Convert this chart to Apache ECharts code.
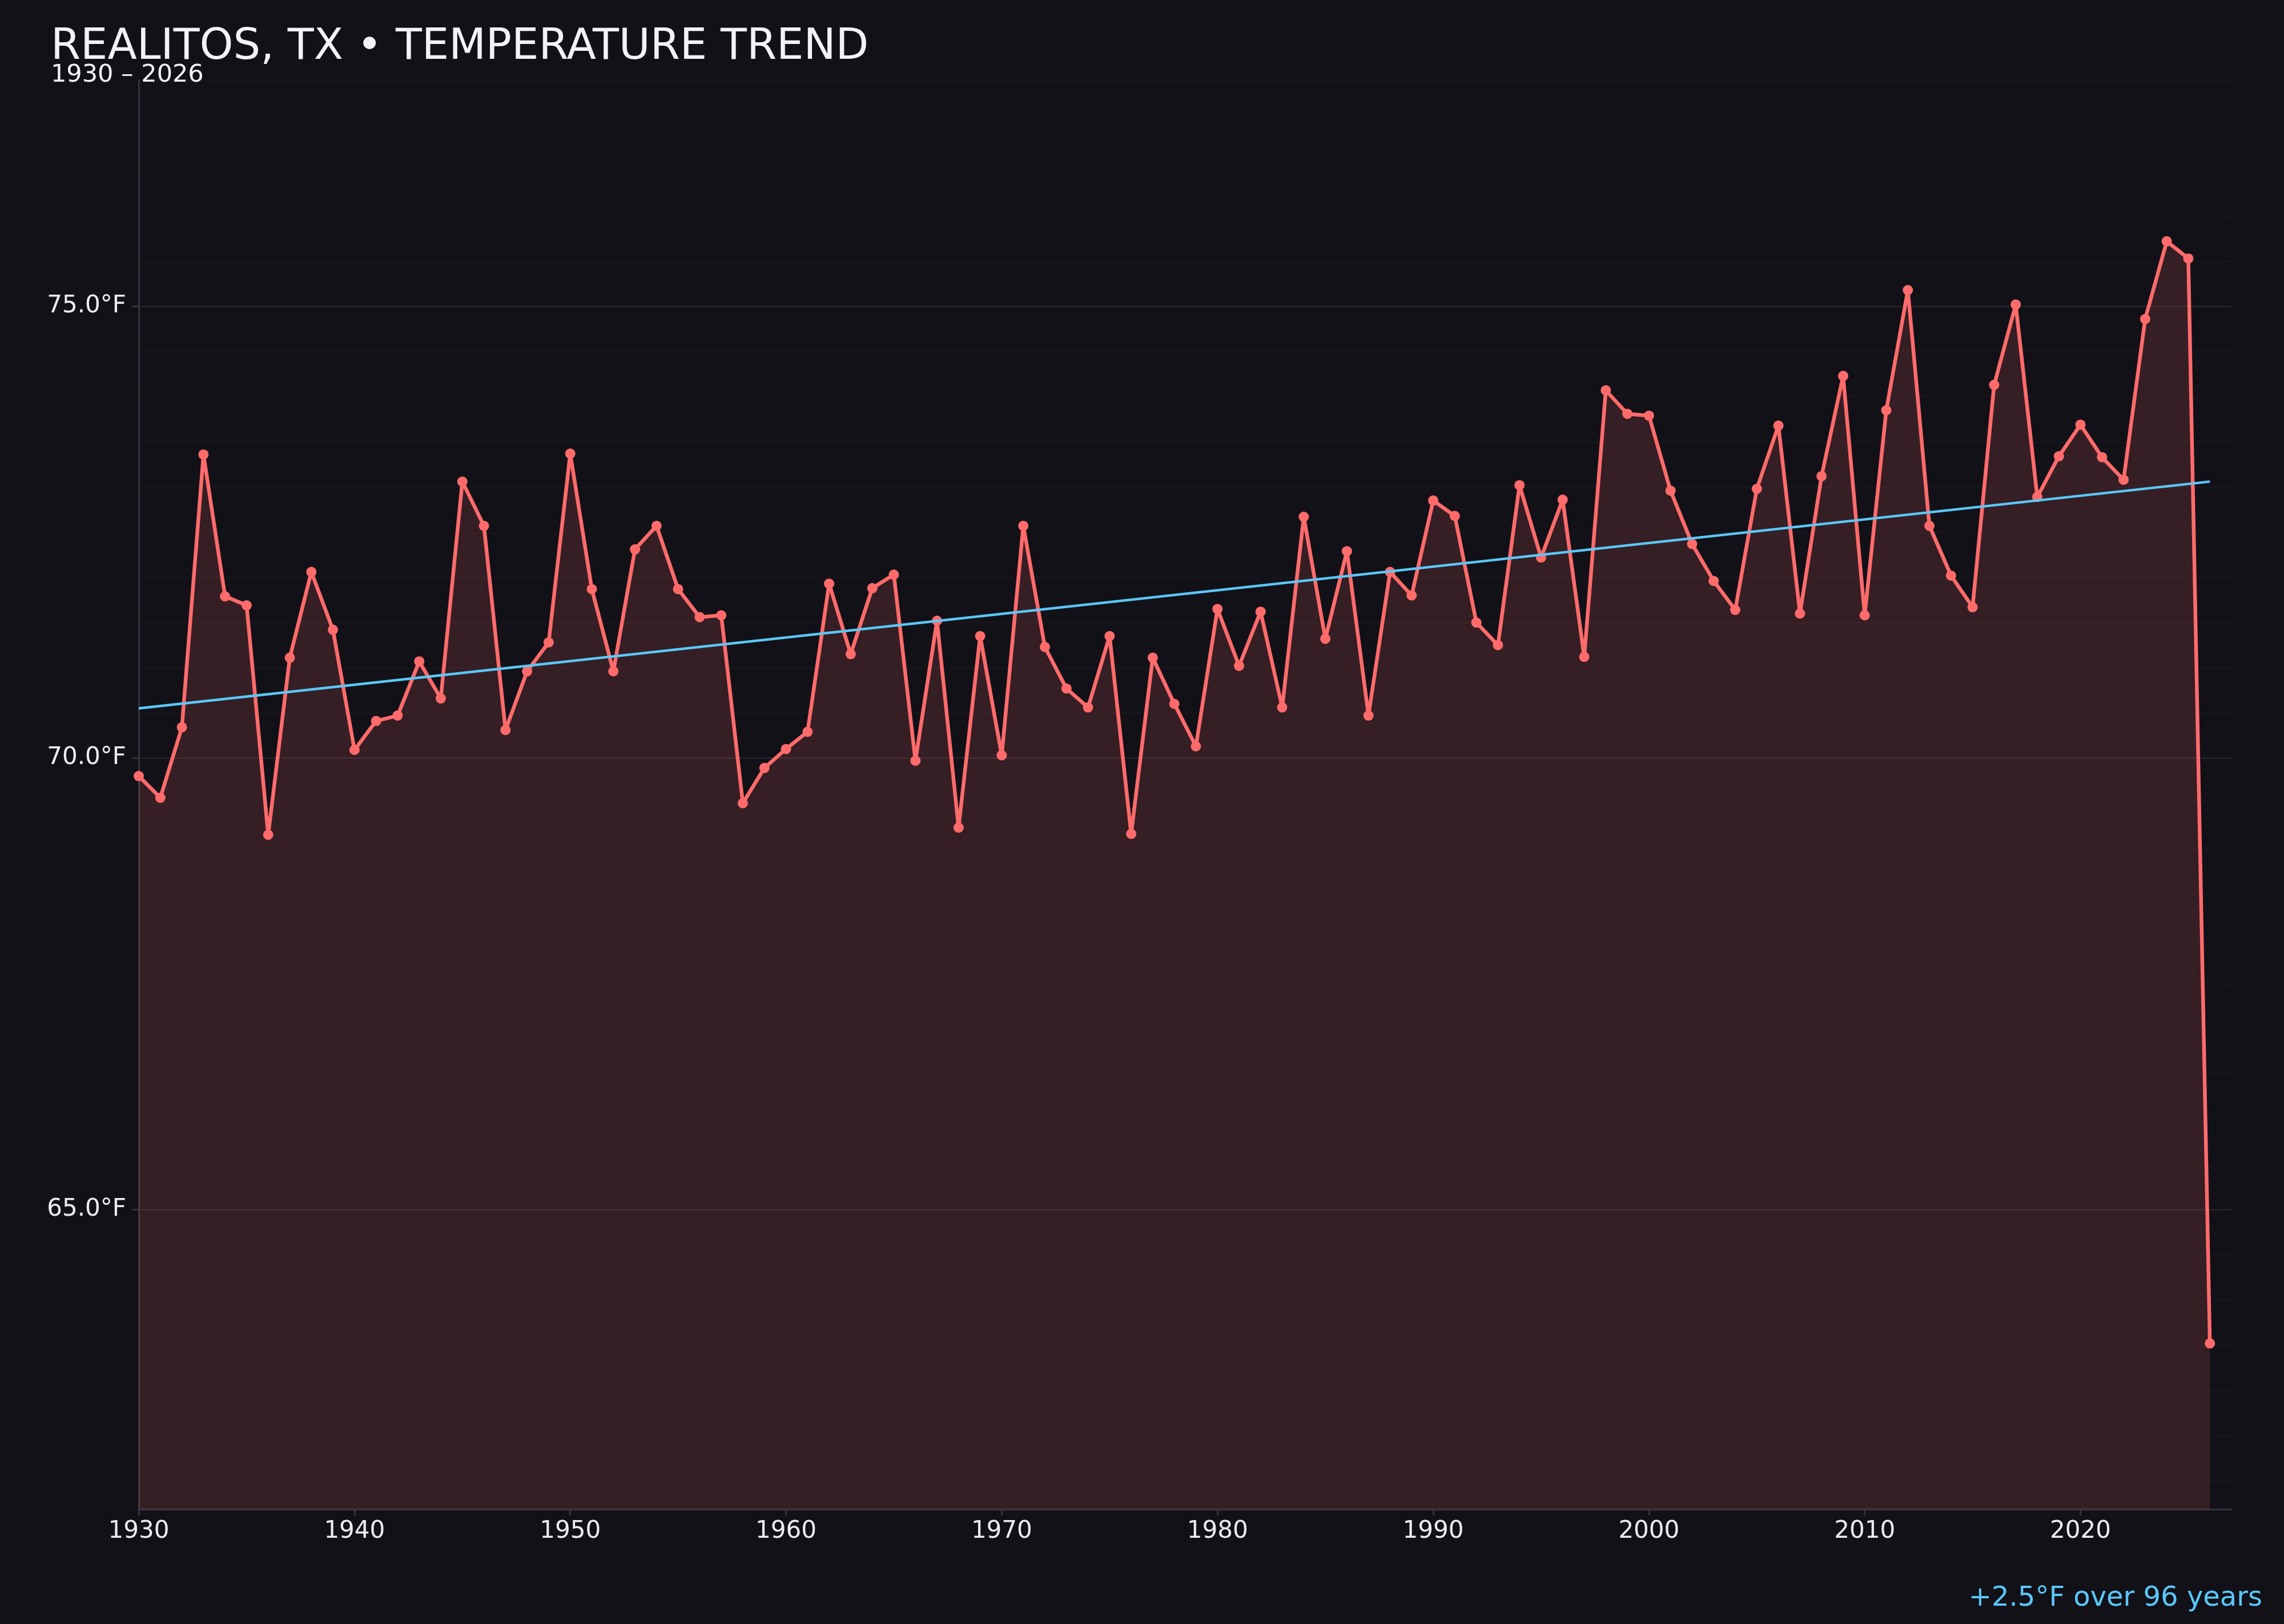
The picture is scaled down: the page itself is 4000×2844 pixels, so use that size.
<!DOCTYPE html>
<html>
<head>
<meta charset="utf-8">
<script src="https://cdn.jsdelivr.net/npm/echarts@6/dist/echarts.min.js"></script>
<style>
  html, body { margin: 0; padding: 0; background: #121118; }
  #chart { width: 4000px; height: 2844px; }
</style>
</head>
<body>
<div id="chart"></div>
<script>
// ---- Data ----
const years = [
  1930,1931,1932,1933,1934,1935,1936,1937,1938,1939,
  1940,1941,1942,1943,1944,1945,1946,1947,1948,1949,
  1950,1951,1952,1953,1954,1955,1956,1957,1958,1959,
  1960,1961,1962,1963,1964,1965,1966,1967,1968,1969,
  1970,1971,1972,1973,1974,1975,1976,1977,1978,1979,
  1980,1981,1982,1983,1984,1985,1986,1987,1988,1989,
  1990,1991,1992,1993,1994,1995,1996,1997,1998,1999,
  2000,2001,2002,2003,2004,2005,2006,2007,2008,2009,
  2010,2011,2012,2013,2014,2015,2016,2017,2018,2019,
  2020,2021,2022,2023,2024,2025,2026
];
const temps = [
  69.80,69.56,70.34,73.36,71.79,71.69,69.15,71.11,72.06,71.42,
  70.09,70.41,70.47,71.07,70.66,73.06,72.57,70.31,70.96,71.28,
  73.37,71.87,70.96,72.31,72.57,71.87,71.56,71.58,69.50,69.89,
  70.10,70.29,71.93,71.15,71.88,72.03,69.97,71.52,69.23,71.35,
  70.03,72.57,71.23,70.77,70.56,71.35,69.16,71.11,70.60,70.13,
  71.65,71.02,71.62,70.56,72.67,71.32,72.29,70.47,72.06,71.80,
  72.85,72.68,71.50,71.25,73.02,72.22,72.86,71.12,74.07,73.81,
  73.79,72.96,72.37,71.96,71.64,72.98,73.68,71.60,73.12,74.23,
  71.58,73.85,75.18,72.57,72.02,71.67,74.13,75.02,72.89,73.34,
  73.69,73.33,73.08,74.86,75.72,75.53,63.52
];
const trendYears = [1930, 2026];
const trendValues = [70.55, 73.06];
const xTicks = [1930,1940,1950,1960,1970,1980,1990,2000,2010,2020];
const yMajorTicks = [65, 70, 75];
const yMinorTicks = [62,62.5,63,63.5,64,64.5,65,65.5,66,66.5,67,67.5,68,68.5,69,69.5,
                     70,70.5,71,71.5,72,72.5,73,73.5,74,74.5,75,75.5,76,76.5,77,77.5];
const titleText = 'REALITOS, TX • TEMPERATURE TREND';
const subtitleText = '1930 – 2026';
const footerText = '+2.5°F over 96 years';

// ---- Chart ----
const FONT = 'DejaVu Sans';
const chart = echarts.init(document.getElementById('chart'), null, { renderer: 'canvas' });

const mainData = years.map((y, i) => [y, temps[i]]);
const trendData = trendYears.map((y, i) => [y, trendValues[i]]);

const Y_MIN = 61.684, Y_MAX = 77.5;

chart.setOption({
  backgroundColor: '#121118',
  animation: false,
  textStyle: { fontFamily: FONT },
  title: [
    { text: titleText, left: 89, top: 46, padding: 0,
      textStyle: { color: '#f2f2f7', fontSize: 75, fontWeight: 'normal', fontFamily: FONT } },
    { text: subtitleText, left: 89, top: 110, padding: 0,
      textStyle: { color: '#f2f2f7', fontSize: 43, fontWeight: 'normal', fontFamily: FONT } },
    { text: footerText, right: 38, bottom: 20, padding: 0,
      textStyle: { color: '#5ac8fa', fontSize: 48, fontWeight: 'normal', fontFamily: FONT } }
  ],
  grid: { left: 243, right: 92, top: 141, bottom: 201, containLabel: false },
  xAxis: {
    type: 'value', min: 1930, max: 2027,
    axisLine: { show: true, lineStyle: { color: '#34343e', width: 3 } },
    axisTick: { show: true, customValues: xTicks, length: 11, lineStyle: { color: '#34343e', width: 3 } },
    axisLabel: { customValues: xTicks, color: '#ececf1', fontSize: 42, margin: 18, fontFamily: FONT,
                 formatter: v => String(v) },
    splitLine: { show: false }
  },
  yAxis: [
    {
      type: 'value', min: Y_MIN, max: Y_MAX,
      axisLine: { show: true, lineStyle: { color: '#34343e', width: 3 } },
      axisTick: { show: true, customValues: yMajorTicks, length: 11, lineStyle: { color: '#34343e', width: 3 } },
      axisLabel: { customValues: yMajorTicks, color: '#ececf1', fontSize: 42, margin: 22, fontFamily: FONT,
                   formatter: v => v.toFixed(1) + '°F' },
      splitLine: { show: true, lineStyle: { color: 'rgba(255,255,255,0.05)', width: 3 } }
    },
    {
      type: 'value', min: Y_MIN, max: Y_MAX, position: 'left',
      axisLine: { show: false },
      axisTick: { show: false, customValues: yMinorTicks },
      axisLabel: { show: false, customValues: yMinorTicks },
      splitLine: { show: true, lineStyle: { color: 'rgba(255,255,255,0.018)', width: 3 } }
    }
  ],
  series: [
    {
      type: 'line', name: 'temp', data: mainData, yAxisIndex: 0,
      symbol: 'circle', symbolSize: 18, showAllSymbol: true,
      lineStyle: { color: '#ff6b6b', width: 6.5 },
      itemStyle: { color: '#ff6b6b' },
      areaStyle: { color: '#ff6b6b', opacity: 0.15, origin: 'start' },
      z: 3
    },
    {
      type: 'line', name: 'trend', data: trendData, yAxisIndex: 0,
      symbol: 'none',
      lineStyle: { color: '#5ac8fa', width: 4.5 },
      z: 4
    }
  ]
});
</script>
</body>
</html>
